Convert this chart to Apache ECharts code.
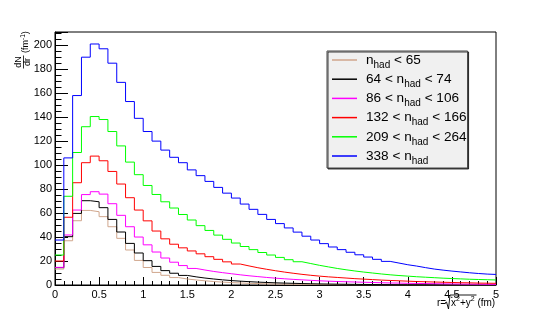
<!DOCTYPE html>
<html><head><meta charset="utf-8">
<script src="https://cdn.jsdelivr.net/npm/echarts@6/dist/echarts.min.js"></script>
<style>html,body{margin:0;padding:0;background:#fff}#c{width:552px;height:317px}</style>
</head><body><div id="c"></div>
<script>
// bin lower edges (fm) plus the upper edge of the last bin
const binEdges = [0,0.1,0.2,0.3,0.4,0.5,0.6,0.7,0.8,0.9,1.0,1.1,1.2,1.3,1.4,1.5,1.6,1.7,1.8,1.9,2.0,2.1,2.2,2.3,2.4,2.5,2.6,2.7,2.8,2.9,3.0,3.1,3.2,3.3,3.4,3.5,3.6,3.7,3.8,3.9,4.0,4.1,4.2,4.3,4.4,4.5,4.6,4.7,4.8,4.9,5.0];

const nhadLt65 = [13.3,36.9,53.6,62.2,61.1,57,48.6,38.9,29.2,20.5,14.6,10.5,8.1,6.2,5,4.2,3.5,2.9,2.4,2.0,1.7,1.4,1.2,1.0,0.85,0.72,0.6,0.5,0.42,0.36,0.3,0.26,0.22,0.19,0.16,0.14,0.12,0.1,0.09,0.08,0.07,0.06,0.05,0.04,0.04,0.03,0.03,0.02,0.02,0.02];
const nhad64to74 = [14.5,40.3,59.7,70.3,69.4,64.5,54.7,44.2,34.7,26.7,20.3,15.5,12,9.8,8,6.8,5.8,5.0,4.3,3.7,3.2,2.8,2.4,2.1,1.8,1.6,1.4,1.2,1.05,0.9,0.8,0.7,0.6,0.52,0.45,0.4,0.35,0.3,0.26,0.23,0.2,0.18,0.16,0.14,0.12,0.11,0.1,0.09,0.08,0.07];
const nhad86to106 = [14.7,41.7,62.5,75.4,77.8,75.8,67.8,58.1,48.6,40,33.5,27.5,22.5,19,16.2,13.8,12.5,11.3,10.3,9.4,8.5,7.7,7,6.3,5.7,5.2,4.7,4.3,3.9,3.5,3.2,2.9,2.7,2.5,2.3,2.1,1.9,1.7,1.6,1.4,1.3,1.2,1.1,1.0,0.9,0.8,0.75,0.7,0.6,0.55];
const nhad132to166 = [20,56.5,85.3,102,107.5,103.6,94.7,84.2,72.8,62.5,53.5,45,38.5,34,31,28.4,26,23.6,21.4,19.3,17.5,15.9,14.4,13.1,11.9,10.8,9.8,8.9,8.1,7.4,6.8,6.3,5.8,5.3,4.9,4.5,4.1,3.8,3.5,3.2,2.9,2.7,2.5,2.3,2.1,1.9,1.8,1.6,1.5,1.4];
const nhad209to264 = [25,74,110.5,132,140.5,138,128,116,102.5,92,83,75.5,69.4,64.2,58.8,54.2,49.5,45.5,41.6,38.1,35,32.1,29.5,27.1,25,23,21.1,19.4,17.9,16.4,15.1,13.8,12.7,11.7,10.8,10,9.2,8.5,7.9,7.4,6.9,6.5,6.1,5.7,5.4,5.1,4.8,4.6,4.4,4.2];
const nhadGt338 = [37.5,106,158,190,201,197,185,169,153,139,128,120,112.5,106.5,102,96,91.2,86.4,81.4,76.6,72.5,67.5,63.1,58.9,54.7,51.2,47.6,44.1,40.7,37.5,34.5,31.7,29.5,27.3,25.2,23.3,21.4,19.7,18.3,16.9,15.8,14.5,13.3,12.4,11.6,10.9,10.2,9.6,9.1,8.8];

const seriesNames = ['nhad<65','64<nhad<74','86<nhad<106','132<nhad<166','209<nhad<264','338<nhad'];
const seriesValues = [nhadLt65, nhad64to74, nhad86to106, nhad132to166, nhad209to264, nhadGt338];
const seriesColors = ['#d0a68c','#000000','#ff00ff','#ff0000','#00ff00','#0000ff'];
const legendPre = ['', '64 < ', '86 < ', '132 < ', '209 < ', '338 < '];
const legendPost = [' < 65', ' < 74', ' < 106', ' < 166', ' < 264', ''];

const FONT = 'Liberation Sans, Arial, Helvetica, sans-serif';

const chart = echarts.init(document.getElementById('c'), null, {renderer: 'canvas'});

function histData(vals) {
  return binEdges.map((x, i) => [x, vals[Math.min(i, vals.length - 1)]]);
}

const series = seriesNames.map((name, k) => ({
  name: name,
  type: 'line',
  step: 'end',
  symbol: 'none',
  showSymbol: false,
  data: histData(seriesValues[k]),
  lineStyle: {color: seriesColors[k], width: 1},
  itemStyle: {color: seriesColors[k]},
  z: 2 + k,
  animation: false
}));

const option = {
  animation: false,
  backgroundColor: '#ffffff',
  grid: {left: 55, right: 56, top: 32, bottom: 32, show: true, borderColor: '#000', borderWidth: 1, backgroundColor: 'transparent'},
  xAxis: {
    type: 'value', min: 0, max: 5, interval: 0.5,
    axisLine: {show: true, lineStyle: {color: '#000', width: 1}},
    axisTick: {show: true, inside: true, length: 8, lineStyle: {color: '#000'}},
    minorTick: {show: true, splitNumber: 5, length: 4, lineStyle: {color: '#000'}},
    splitLine: {show: false},
    axisLabel: {color: '#000', fontSize: 11, fontFamily: FONT, margin: 4}
  },
  yAxis: {
    type: 'value', min: 0, max: 211, interval: 20,
    axisLine: {show: true, lineStyle: {color: '#000', width: 1}},
    axisTick: {show: true, inside: true, length: 13, lineStyle: {color: '#000'}},
    minorTick: {show: true, splitNumber: 4, length: 6.5, lineStyle: {color: '#000'}},
    splitLine: {show: false},
    axisLabel: {color: '#000', fontSize: 11, fontFamily: FONT, margin: 3, showMaxLabel: false}
  },
  legend: {
    orient: 'vertical', left: 327, top: 51,
    data: seriesNames,
    selectedMode: false,
    icon: 'rect',
    itemWidth: 25, itemHeight: 1.5, itemGap: 2.2,
    padding: [2, 1, 2, 5],
    backgroundColor: '#f0f0f0',
    borderColor: '#444', borderWidth: 1,
    shadowColor: 'rgba(0,0,0,0.75)', shadowOffsetX: 1, shadowOffsetY: 1, shadowBlur: 0,
    textStyle: {
      color: '#000', fontFamily: FONT, fontSize: 13.6, padding: [0, 0, 0, 4],
      rich: {
        m: {fontFamily: FONT, fontSize: 13.6, lineHeight: 20, color: '#000'},
        s: {fontFamily: FONT, fontSize: 10, lineHeight: 2, verticalAlign: 'bottom', color: '#000'}
      }
    },
    formatter: function (name) {
      const k = seriesNames.indexOf(name);
      let t = '{m|' + legendPre[k] + 'n}{s|had}';
      if (legendPost[k]) t += '{m|' + legendPost[k] + '}';
      return t;
    }
  },
  graphic: [
    {
      type: 'group', x: 23.5, y: 69, rotation: Math.PI / 2, silent: true,
      children: [
        {type: 'text', x: 7, y: -4.5, style: {text: 'dN', fontSize: 9, fontFamily: FONT, fill: '#000', align: 'center', verticalAlign: 'middle'}},
        {type: 'line', shape: {x1: 0.5, y1: 0, x2: 13.5, y2: 0}, style: {stroke: '#000', lineWidth: 0.8}},
        {type: 'text', x: 7, y: 4.5, style: {text: 'dr', fontSize: 9, fontFamily: FONT, fill: '#000', align: 'center', verticalAlign: 'middle'}},
        {type: 'text', x: 16, y: 2, style: {
          text: '{a|(fm}{b|-1}{a|)}', fontFamily: FONT, fill: '#000', align: 'left', verticalAlign: 'middle',
          rich: {a: {fontSize: 9, lineHeight: 12, fontFamily: FONT}, b: {fontSize: 6.5, lineHeight: 6, verticalAlign: 'top', fontFamily: FONT}}
        }}
      ]
    },
    {type: 'text', x: 437, y: 303, silent: true, style: {text: 'r=', fontSize: 10, fontFamily: FONT, fill: '#000', align: 'left', verticalAlign: 'middle'}},
    {type: 'polyline', silent: true, shape: {points: [[445, 303], [446.5, 302], [448.5, 309], [450, 295], [476.5, 295]]}, style: {stroke: '#000', lineWidth: 0.9, fill: null}},
    {type: 'text', x: 451, y: 303, silent: true, style: {
      text: '{n|x}{p|2}{n|+y}{p|2}{n| (fm)}', fontFamily: FONT, fill: '#000', align: 'left', verticalAlign: 'middle',
      rich: {n: {fontSize: 10, lineHeight: 14, fontFamily: FONT}, p: {fontSize: 7, lineHeight: 8, verticalAlign: 'top', fontFamily: FONT}}
    }}
  ],
  series: series
};
chart.setOption(option);
</script>
</body></html>
